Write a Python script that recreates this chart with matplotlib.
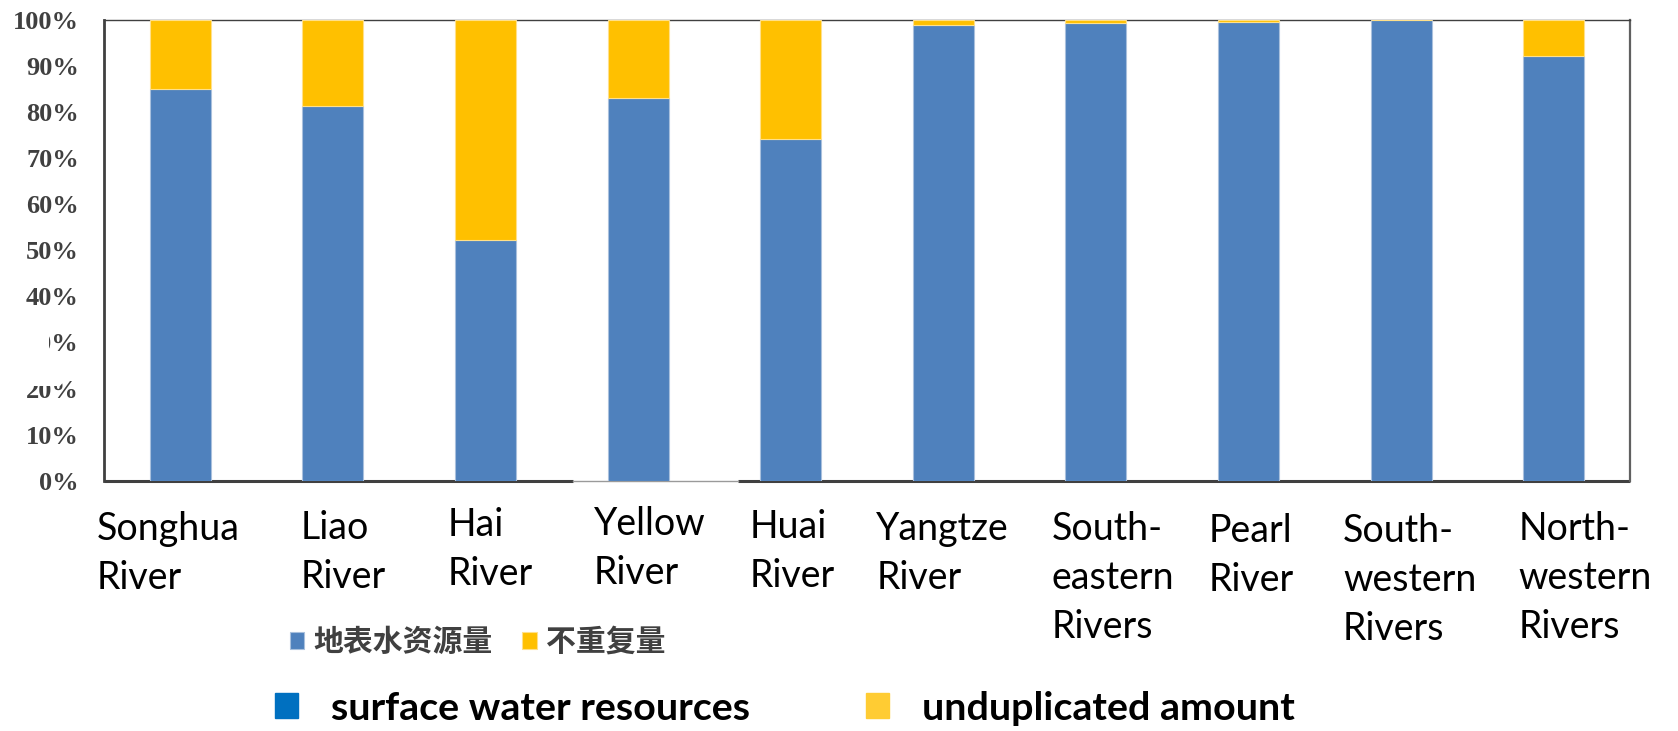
import numpy as np
import matplotlib
matplotlib.use("Agg")
import matplotlib.pyplot as plt
from matplotlib.patches import Patch, Polygon

# share of surface water resources vs. unduplicated amount, per river basin
basins = ["Songhua\nRiver", "Liao\nRiver", "Hai\nRiver", "Yellow\nRiver", "Huai\nRiver",
          "Yangtze\nRiver", "South-\neastern\nRivers", "Pearl\nRiver",
          "South-\nwestern\nRivers", "North-\nwestern\nRivers"]
surface = [85.0, 81.3, 52.3, 83.0, 74.1, 98.9, 99.4, 99.6, 100.0, 92.2]
unduplicated = [100 - s for s in surface]
yticks = [0, 10, 20, 30, 40, 50, 60, 70, 80, 90, 100]

# label layout (offset from category centre, top of text in axes units)
lab_dx = [-0.55, -0.21, -0.25, -0.29, -0.27, -0.44, -0.29, -0.26, -0.38, -0.23]
lab_dy = [-0.065, -0.063, -0.058, -0.054, -0.062, -0.066, -0.066, -0.070, -0.070, -0.066]

BLUE = "#4F81BD"
GOLD = "#FFC000"
GREY = "#404040"

W, H = 1678, 731
fig = plt.figure(figsize=(W / 100, H / 100), dpi=100)
ax = fig.add_axes([104 / W, 1 - 480.7 / H, (1630 - 104) / W, (480.7 - 20) / H])

x = np.arange(len(basins))
b1 = ax.bar(x, surface, width=0.4, color=BLUE, edgecolor="#A9C0DD", linewidth=0.8, zorder=3)
b2 = ax.bar(x, unduplicated, bottom=surface, width=0.4, color=GOLD,
            edgecolor="#FFE08A", linewidth=0.8, zorder=3)

ax.set_xlim(-0.5, len(basins) - 0.5)
ax.set_ylim(0, 100)
ax.set_yticks(yticks)
ax.set_yticklabels([f"{v}%" for v in yticks], fontfamily="Liberation Serif",
                   fontweight="bold", fontsize=19, color=GREY)
ax.tick_params(axis="y", length=0, pad=18)
ax.set_xticks([])
for s in ax.spines.values():
    s.set_color(GREY)
    s.set_linewidth(1.0)
ax.spines["left"].set_linewidth(2)
ax.spines["right"].set_color("#606060")
ax.spines["right"].set_linewidth(1.6)

# bottom edge: heavy line, with a faint stretch under the Yellow River
ax.spines["bottom"].set_visible(False)
gap0 = (573 - 104) / (1630 - 104)
gap1 = (738 - 104) / (1630 - 104)
ax.plot([0, gap0], [0, 0], transform=ax.transAxes, color=GREY, lw=2.2,
        clip_on=False, zorder=2, solid_capstyle="butt")
ax.plot([gap1, 1], [0, 0], transform=ax.transAxes, color=GREY, lw=2.2,
        clip_on=False, zorder=2, solid_capstyle="butt")
ax.plot([gap0, gap1], [0, 0], transform=ax.transAxes, color="#9a9a9a", lw=1,
        clip_on=False, zorder=2)

for i, name in enumerate(basins):
    ax.text(i + lab_dx[i], lab_dy[i], name, transform=ax.get_xaxis_transform(),
            ha="left", va="top", fontfamily="Lato", fontsize=27,
            color="black", linespacing=1.45)

# white mask over part of the 30% / 20% labels
mask = Polygon([(0, 1 - 330 / H), (49 / W, 1 - 330 / H), (49 / W, 1 - 362 / H),
                (72 / W, 1 - 372 / H), (60 / W, 1 - 386 / H), (0, 1 - 386 / H)],
               closed=True, transform=fig.transFigure, facecolor="white",
               edgecolor="none", zorder=5)
fig.patches.append(mask)

leg1 = fig.legend([b1, b2], ["地表水资源量", "不重复量"], loc="center left",
                  bbox_to_anchor=(290 / W, 1 - 642 / H), ncol=2, frameon=False,
                  prop={"family": ["Noto Sans CJK SC", "DejaVu Sans"],
                        "weight": "bold", "size": 21.5},
                  handlelength=0.48, handleheight=0.5, handletextpad=0.3,
                  columnspacing=1.0, borderpad=0, borderaxespad=0)
for t in leg1.get_texts():
    t.set_color(GREY)

h2 = [Patch(color="#0070C0"), Patch(color="#FFCC33")]
leg2 = fig.legend(h2, ["surface water resources", "unduplicated amount"],
                  loc="center left", bbox_to_anchor=(275 / W, 1 - 708 / H), ncol=2,
                  frameon=False, prop={"family": "Lato", "weight": "bold", "size": 28.4},
                  handlelength=0.58, handleheight=0.61, handletextpad=0.84,
                  columnspacing=2.95, borderpad=0, borderaxespad=0)

fig.savefig("out.png", dpi=100)
